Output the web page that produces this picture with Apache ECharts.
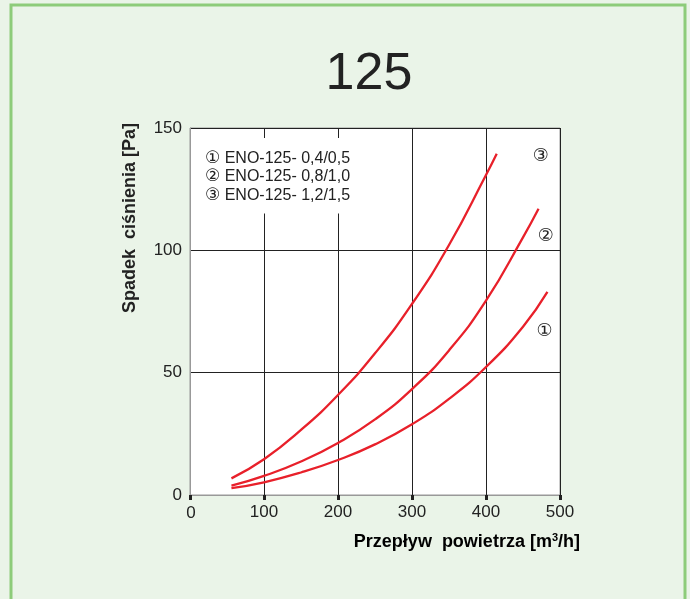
<!DOCTYPE html>
<html><head><meta charset="utf-8">
<script src="https://cdn.jsdelivr.net/npm/echarts@6/dist/echarts.min.js"></script>
<style>html,body{margin:0;padding:0;background:#eaf4e8;}#c{width:690px;height:599px;}</style>
</head><body><div id="c"></div>
<script>
const seriesNames = ['\u2460 ENO-125- 0,4/0,5', '\u2461 ENO-125- 0,8/1,0', '\u2462 ENO-125- 1,2/1,5'];
const flow1 = [56, 100, 150, 200, 250, 300, 350, 400, 450, 483];
const dp1 = [2.8, 5.2, 9.2, 14.3, 20.7, 28.9, 39.3, 52.3, 68.8, 83];
const flow2 = [56, 100, 150, 200, 250, 300, 350, 400, 450, 471];
const dp2 = [3.8, 7.8, 13.7, 21.3, 30.9, 43.3, 59.1, 79.4, 105.3, 117];
const flow3 = [56, 100, 150, 200, 250, 300, 350, 400, 414.5];
const dp3 = [6.8, 14.6, 26.6, 40.9, 57.9, 78.1, 102.2, 130.8, 139.5];
const endMarks = [['\u2460', 479, 66.8], ['\u2461', 481, 105.7], ['\u2462', 474, 138.5]];
const xTicks = [0, 500, 100];
const yTicks = [0, 150, 50];

const chart = echarts.init(document.getElementById('c'));
const zip = (a, b) => a.map((v, i) => [v, b[i]]);
const flows = [flow1, flow2, flow3], dps = [dp1, dp2, dp3];
const series = seriesNames.map((n, i) => ({
  name: n, type: 'line', smooth: 0.5, showSymbol: false, symbol: 'none',
  lineStyle: { color: '#e8202a', width: 2.3 }, itemStyle: { color: '#e8202a' },
  data: zip(flows[i], dps[i]),
  markPoint: {
    symbol: 'circle', symbolSize: 1, silent: true,
    itemStyle: { color: 'rgba(0,0,0,0)' },
    label: { show: true, position: 'inside', formatter: endMarks[i][0], color: '#222', fontSize: 18, fontFamily: 'DejaVu Sans' },
    data: [{ coord: [endMarks[i][1], endMarks[i][2]] }]
  }
}));
chart.setOption({
  backgroundColor: '#eaf4e8',
  animation: false,
  title: { text: '125', left: 364, top: 44, textAlign: 'center',
    textStyle: { fontSize: 52, fontWeight: 'normal', color: '#222', fontFamily: 'Liberation Sans, Arial' } },
  legend: { orient: 'vertical', left: 196, top: 138, itemWidth: 0, itemHeight: 0, itemGap: 0, icon: 'none',
    selectedMode: false, backgroundColor: '#fff', padding: [11, 8, 9, 9], z: 10,
    formatter: n => '{c|' + n.charAt(0) + '}{t|' + n.slice(1) + '}',
    textStyle: { color: '#222', fontSize: 16, fontFamily: 'Liberation Sans, Arial', padding: [0, 0, 0, -5], lineHeight: 18.5,
      rich: { c: { fontSize: 17, fontFamily: 'DejaVu Sans', color: '#222', lineHeight: 18.5 },
              t: { fontSize: 16, fontFamily: 'Liberation Sans, Arial', color: '#222', lineHeight: 18.5 } } },
    data: seriesNames },
  grid: { left: 190, right: 130, top: 128, bottom: 104, show: true, backgroundColor: '#fff', borderColor: '#999', borderWidth: 1 },
  xAxis: { type: 'value', min: xTicks[0], max: xTicks[1], interval: xTicks[2],
    axisLine: { show: true, lineStyle: { color: '#999', width: 1 } },
    axisTick: { show: true, length: 5, inside: false, lineStyle: { color: '#222', width: 3 } },
    axisLabel: { color: '#222', fontSize: 17, margin: 9, fontFamily: 'Liberation Sans, Arial',
      formatter: v => v === 0 ? '' : String(v) },
    splitLine: { show: true, lineStyle: { color: '#222', width: 1 } } },
  yAxis: { type: 'value', min: yTicks[0], max: yTicks[1], interval: yTicks[2],
    axisLine: { show: true, lineStyle: { color: '#999' } },
    axisTick: { show: false },
    axisLabel: { color: '#222', fontSize: 17, margin: 8, fontFamily: 'Liberation Sans, Arial' },
    splitLine: { show: true, lineStyle: { color: '#222', width: 1 } } },
  graphic: [
    { type: 'rect', shape: { x: 11, y: 5, width: 674, height: 620 }, style: { fill: 'none', stroke: '#8dcc7a', lineWidth: 3 }, z: -1 },
    { type: 'text', x: 130, y: 218, rotation: Math.PI / 2,
      style: { text: 'Spadek  ciśnienia [Pa]', fill: '#222', font: 'bold 18px Liberation Sans, Arial', textAlign: 'center', textVerticalAlign: 'middle' } },
    { type: 'text', x: 191, y: 505,
      style: { text: '0', fill: '#222', font: '17px Liberation Sans, Arial', textAlign: 'center', textVerticalAlign: 'top' } },
    { type: 'text', x: 580, y: 542,
      style: { text: '{a|Przepływ  powietrza [m}{s|3}{a|/h]}', textAlign: 'right', textVerticalAlign: 'middle',
        rich: { a: { fontFamily: 'Liberation Sans, Arial', fontSize: 18, fontWeight: 'bold', color: '#222' },
                s: { fontFamily: 'Liberation Sans, Arial', fontSize: 11, fontWeight: 'bold', color: '#222', verticalAlign: 'top', padding: [0, 0, 9, 0] } } } }
  ],
  series
});
</script></body></html>
